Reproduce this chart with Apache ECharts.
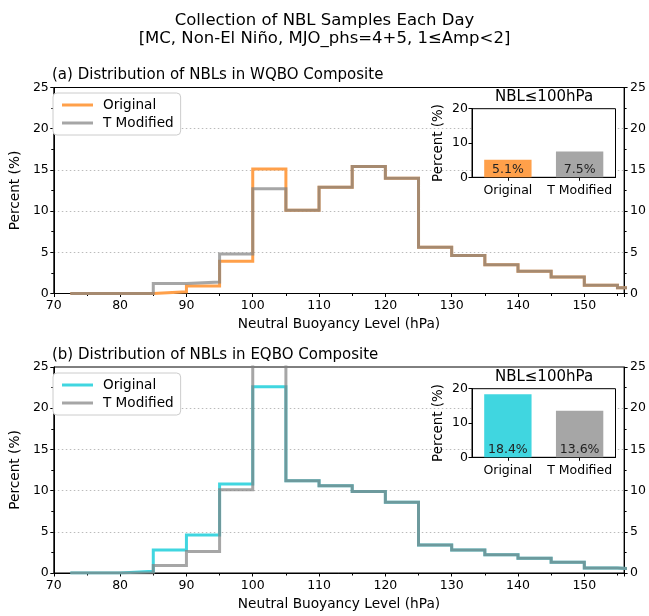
<!DOCTYPE html>
<html>
<head>
<meta charset="utf-8">
<script src="https://cdn.jsdelivr.net/npm/echarts@6/dist/echarts.min.js"></script>
<style>html,body{margin:0;padding:0;background:#fff;}#c{width:649px;height:616px;}</style>
</head>
<body>
<div id="c"></div>
<script>
// ---- data ----
const binEdges = [72.5, 80, 85, 90, 95, 100, 105, 110, 115, 120, 125, 130, 135, 140, 145, 150, 155, 160];
const wqboOriginal  = [0, 0, 0.2, 0.9, 3.9, 15.1, 10.1, 12.9, 15.4, 14.0, 5.6, 4.6, 3.5, 2.7, 2.0, 1.0, 0.7];
const wqboTModified = [0, 0, 1.2, 1.4, 4.8, 12.7, 10.1, 12.9, 15.4, 14.0, 5.6, 4.6, 3.5, 2.7, 2.0, 1.0, 0.7];
const eqboOriginal  = [0, 0.2, 2.8, 4.6, 10.8, 22.6, 11.2, 10.6, 9.9, 8.6, 3.4, 2.8, 2.2, 1.8, 1.3, 0.6, 0.45];
const eqboTModified = [0, 0, 0.9, 2.6, 10.1, 27.4, 11.2, 10.6, 9.9, 8.6, 3.4, 2.8, 2.2, 1.8, 1.3, 0.6, 0.45];
const insetCategories = ['Original', 'T Modified'];
const wqboInset = [5.1, 7.5];
const eqboInset = [18.4, 13.6];
const mainYTicks = [0, 5, 10, 15, 20, 25];
const xTickLabels = [70, 80, 90, 100, 110, 120, 130, 140, 150];

const FONT = 'DejaVu Sans';
const ORANGE = '#ffa04a';
const CYAN = '#40d6e0';
const GRAY_A = 'rgba(128,128,128,0.7)';
const GRAY_BAR = '#a6a6a6';

function stepData(edges, vals) {
  const d = vals.map((v, i) => [edges[i], v]);
  d.push([edges[vals.length], vals[vals.length - 1]]);
  return d;
}

const mainGrids = [
  {left: 50, right: 23, top: 87.5, height: 206, show: true, borderColor: '#000', borderWidth: 1, z: 0},
  {left: 50, right: 23, top: 367, height: 206, show: true, borderColor: '#000', borderWidth: 1, z: 0}
];
const insetGrids = [
  {left: 472, width: 143.5, top: 108.7, height: 68.6, show: true, borderColor: '#000', borderWidth: 1, backgroundColor: '#fff', z: 5},
  {left: 472, width: 143.5, top: 388.7, height: 68.6, show: true, borderColor: '#000', borderWidth: 1, backgroundColor: '#fff', z: 5}
];

function mainX(gi) {
  return {
    type: 'value', gridIndex: gi, min: 70, max: 156, interval: 10,
    name: 'Neutral Buoyancy Level (hPa)', nameLocation: 'middle', nameGap: 24,
    nameTextStyle: {fontFamily: FONT, fontSize: 13.7, color: '#000'},
    axisLine: {show: true, onZero: false, lineStyle: {color: '#000', width: 1}},
    axisTick: {show: true, length: 3.5, lineStyle: {color: '#000'}},
    minorTick: {show: true, splitNumber: 2, length: 2.5, lineStyle: {color: '#000'}},
    axisLabel: {color: '#000', fontFamily: FONT, fontSize: 12.5, margin: 6, showMaxLabel: false,
      formatter: v => (xTickLabels.indexOf(v) >= 0 ? String(v) : '')},
    splitLine: {show: false}
  };
}
function mainY(gi, pos) {
  return {
    type: 'value', gridIndex: gi, min: 0, max: 25, interval: 5, position: pos,
    name: pos === 'left' ? 'Percent (%)' : '', nameLocation: 'middle', nameGap: 21.5, nameRotate: 90,
    nameTextStyle: {fontFamily: FONT, fontSize: 13.7, color: '#000'},
    axisLine: {show: true, lineStyle: {color: '#000', width: 1}},
    axisTick: {show: true, length: 3.5, lineStyle: {color: '#000'}},
    minorTick: {show: true, splitNumber: 2, length: 2.5, lineStyle: {color: '#000'}},
    axisLabel: {color: '#000', fontFamily: FONT, fontSize: 12.5, margin: pos === 'left' ? 5 : 6,
      formatter: v => (mainYTicks.indexOf(v) >= 0 ? String(v) : '')},
    splitLine: {show: pos === 'left', showMinLine: false, showMaxLine: false,
      lineStyle: {color: '#bbb', type: [1.5, 2.5], width: 1}}
  };
}
function insetX(gi) {
  return {
    type: 'category', gridIndex: gi, data: insetCategories, z: 6,
    axisLine: {lineStyle: {color: '#000'}},
    axisTick: {show: true, alignWithLabel: true, length: 3.5, lineStyle: {color: '#000'}},
    axisLabel: {color: '#000', fontFamily: FONT, fontSize: 12.5, margin: 7, interval: 0, hideOverlap: false}
  };
}
function insetY(gi) {
  return {
    type: 'value', gridIndex: gi, min: 0, max: 20, interval: 10, z: 6,
    name: 'Percent (%)', nameLocation: 'middle', nameGap: 26.5, nameRotate: 90,
    nameTextStyle: {fontFamily: FONT, fontSize: 13.4, color: '#000'},
    axisLine: {show: true, lineStyle: {color: '#000'}},
    axisTick: {show: true, length: 3.5, lineStyle: {color: '#000'}},
    axisLabel: {color: '#000', fontFamily: FONT, fontSize: 12.5, margin: 4},
    splitLine: {show: false}
  };
}
function lineSeries(name, xi, yi, edges, vals, color) {
  return {
    type: 'line', name: name, xAxisIndex: xi, yAxisIndex: yi, step: 'end',
    data: stepData(edges, vals), showSymbol: false, symbol: 'none',
    lineStyle: {color: color, width: 3, join: 'miter', cap: 'butt'},
    itemStyle: {color: color}, clip: true, z: 2
  };
}
function barSeries(xi, yi, vals, colors) {
  return {
    type: 'bar', xAxisIndex: xi, yAxisIndex: yi, barWidth: '66%', z: 7,
    data: vals.map((v, i) => ({value: v, itemStyle: {color: colors[i]}})),
    label: {show: true, position: 'insideBottom', distance: 1, formatter: p => p.value + '%',
      color: '#222', fontFamily: FONT, fontSize: 12.5}
  };
}
function legend(top, names, colors) {
  return {
    left: 53, top: top, orient: 'vertical', icon: 'rect', itemWidth: 31, itemHeight: 3, itemGap: 4,
    padding: [5, 7, 5, 9], borderColor: '#ccc', borderWidth: 1, borderRadius: 4, backgroundColor: '#fff',
    data: names.map((n, i) => ({name: n, itemStyle: {color: colors[i]}})),
    formatter: n => n.split('|')[0],
    textStyle: {fontFamily: FONT, fontSize: 13.6, color: '#000', padding: [0, 0, 0, 5]},
    selectedMode: false
  };
}

const option = {
  animation: false,
  backgroundColor: '#fff',
  textStyle: {fontFamily: FONT},
  title: [
    {text: 'Collection of NBL Samples Each Day\n[MC, Non-El Niño, MJO_phs=4+5, 1≤Amp<2]', left: 'center', top: 6,
      textStyle: {fontFamily: FONT, fontSize: 16.5, fontWeight: 'normal', color: '#000', lineHeight: 18.8}},
    {text: '(a) Distribution of NBLs in WQBO Composite', left: 47, top: 62.5,
      textStyle: {fontFamily: FONT, fontSize: 15, fontWeight: 'normal', color: '#000'}},
    {text: '(b) Distribution of NBLs in EQBO Composite', left: 47, top: 342.5,
      textStyle: {fontFamily: FONT, fontSize: 15, fontWeight: 'normal', color: '#000'}},
    {text: 'NBL≤100hPa', left: 539, top: 85, textAlign: 'center',
      textStyle: {fontFamily: FONT, fontSize: 15, fontWeight: 'normal', color: '#000'}},
    {text: 'NBL≤100hPa', left: 539, top: 365, textAlign: 'center',
      textStyle: {fontFamily: FONT, fontSize: 15, fontWeight: 'normal', color: '#000'}}
  ],
  legend: [
    legend(93, ['Original|a', 'T Modified|a'], [ORANGE, GRAY_BAR]),
    legend(373, ['Original|b', 'T Modified|b'], [CYAN, GRAY_BAR])
  ],
  grid: mainGrids.concat(insetGrids),
  xAxis: [mainX(0), mainX(1), insetX(2), insetX(3)],
  yAxis: [mainY(0, 'left'), mainY(0, 'right'), mainY(1, 'left'), mainY(1, 'right'), insetY(2), insetY(3)],
  series: [
    lineSeries('Original|a', 0, 0, binEdges, wqboOriginal, ORANGE),
    lineSeries('T Modified|a', 0, 0, binEdges, wqboTModified, GRAY_A),
    lineSeries('Original|b', 1, 2, binEdges, eqboOriginal, CYAN),
    lineSeries('T Modified|b', 1, 2, binEdges, eqboTModified, GRAY_A),
    barSeries(2, 4, wqboInset, [ORANGE, GRAY_BAR]),
    barSeries(3, 5, eqboInset, [CYAN, GRAY_BAR])
  ]
};
const chart = echarts.init(document.getElementById('c'), null, {renderer: 'canvas'});
chart.setOption(option);
</script>
</body>
</html>
